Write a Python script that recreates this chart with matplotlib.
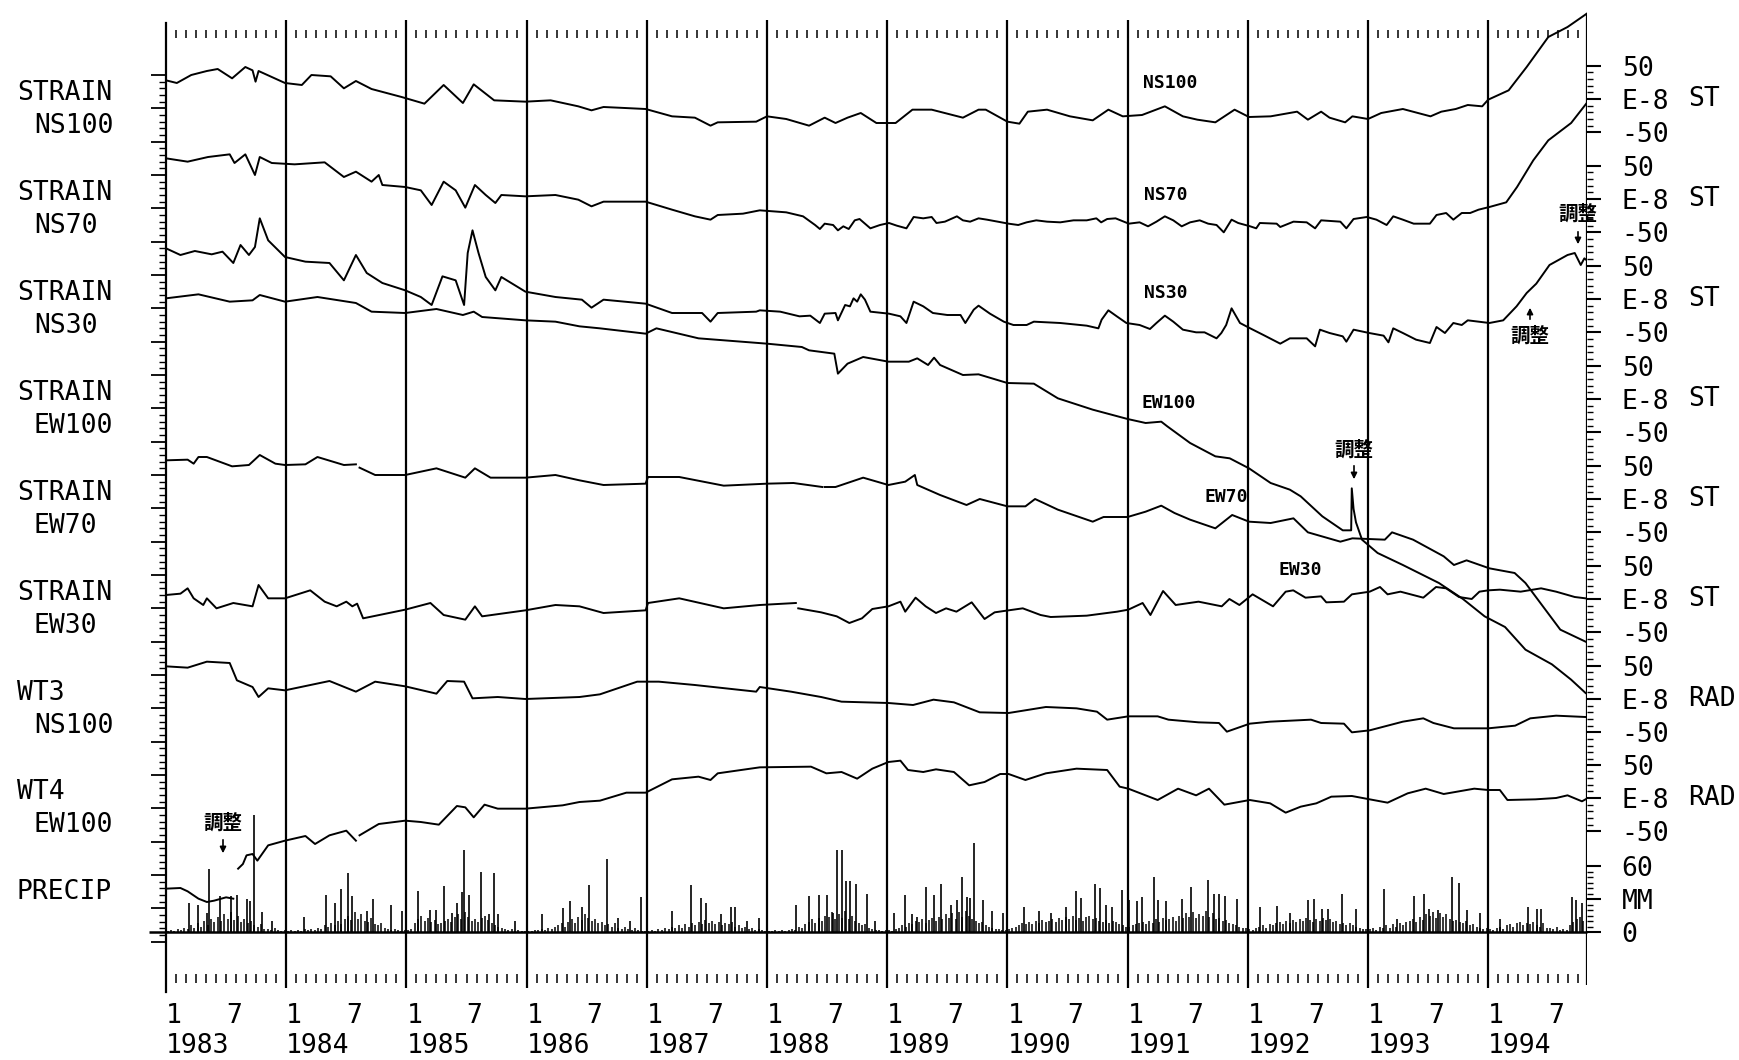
import numpy as np
import matplotlib.pyplot as plt
from matplotlib.ticker import FixedLocator

plt.rcParams['font.family'] = 'DejaVu Sans Mono'
CJK = ['Noto Sans CJK JP', 'DejaVu Sans']

# records: (decimal year, value in E-8)
ns100 = [
    (1983.00, 28), (1983.09, 24), (1983.21, 36), (1983.34, 42), (1983.43, 45), (1983.55, 31),
    (1983.66, 48), (1983.72, 43), (1983.745, 26), (1983.77, 42), (1983.88, 33), (1983.99, 24),
    (1984.13, 21), (1984.21, 36), (1984.37, 34), (1984.48, 16), (1984.58, 27), (1984.71, 15),
    (1984.96, 3), (1985.15, -7), (1985.31, 21), (1985.47, -6), (1985.56, 22), (1985.73, -2),
    (1985.99, -4), (1986.20, -2), (1986.43, -11), (1986.54, -17), (1986.64, -12), (1986.76, -13),
    (1986.99, -15), (1987.21, -26), (1987.40, -28), (1987.53, -40), (1987.59, -35), (1987.91, -34),
    (1988.00, -26), (1988.16, -30), (1988.35, -40), (1988.48, -28), (1988.57, -36), (1988.67, -28),
    (1988.78, -21), (1988.91, -36), (1989.07, -36), (1989.21, -16), (1989.37, -16), (1989.63, -28),
    (1989.76, -16), (1989.82, -16), (1990.00, -34), (1990.10, -37), (1990.17, -19), (1990.33, -16),
    (1990.52, -26), (1990.71, -32), (1990.84, -16), (1990.96, -26), (1991.12, -24), (1991.31, -11),
    (1991.46, -26), (1991.58, -31), (1991.73, -35), (1991.89, -16), (1992.01, -27), (1992.19, -26),
    (1992.41, -19), (1992.50, -31), (1992.61, -19), (1992.68, -28), (1992.81, -35), (1992.87, -26),
    (1993.00, -30), (1993.11, -21), (1993.29, -15), (1993.52, -26), (1993.61, -19), (1993.73, -15),
    (1993.83, -9), (1993.95, -11), (1994.00, -1), (1994.17, 13), (1994.32, 48), (1994.50, 93),
    (1994.66, 108), (1994.74, 118), (1994.82, 128),
]
ns70 = [
    (1983.00, 61), (1983.18, 56), (1983.35, 63), (1983.53, 67), (1983.57, 54), (1983.66, 67),
    (1983.74, 36), (1983.78, 63), (1983.88, 54), (1984.07, 52), (1984.32, 55), (1984.48, 33),
    (1984.58, 41), (1984.71, 26), (1984.77, 36), (1984.80, 21), (1984.99, 18), (1985.12, 13),
    (1985.21, -9), (1985.31, 26), (1985.41, 13), (1985.49, -13), (1985.57, 21), (1985.66, 6),
    (1985.74, -6), (1985.79, 6), (1985.99, 4), (1986.24, 6), (1986.43, -1), (1986.54, -11),
    (1986.64, -4), (1986.99, -4), (1987.21, -16), (1987.40, -26), (1987.53, -31), (1987.59, -24),
    (1987.80, -22), (1987.94, -17), (1988.16, -20), (1988.30, -26), (1988.40, -39), (1988.44, -45),
    (1988.48, -37), (1988.55, -39), (1988.59, -47), (1988.635, -41), (1988.68, -45), (1988.73, -32),
    (1988.77, -30), (1988.86, -44), (1988.94, -39), (1989.015, -36), (1989.08, -40), (1989.16, -44),
    (1989.22, -27), (1989.30, -29), (1989.37, -27), (1989.41, -36), (1989.48, -34), (1989.58, -26),
    (1989.63, -32), (1989.69, -34), (1989.76, -29), (1989.83, -31), (1990.01, -37), (1990.09, -39),
    (1990.16, -35), (1990.24, -32), (1990.33, -34), (1990.44, -35), (1990.55, -32), (1990.66, -32),
    (1990.74, -29), (1990.78, -35), (1990.83, -30), (1990.90, -29), (1991.01, -37), (1991.10, -35),
    (1991.17, -41), (1991.24, -34), (1991.31, -26), (1991.38, -32), (1991.45, -41), (1991.52, -35),
    (1991.60, -32), (1991.67, -37), (1991.74, -39), (1991.80, -50), (1991.865, -31), (1991.92, -36),
    (1992.02, -41), (1992.07, -44), (1992.10, -36), (1992.24, -37), (1992.27, -42), (1992.38, -34),
    (1992.49, -35), (1992.56, -44), (1992.61, -32), (1992.77, -34), (1992.82, -44), (1992.88, -30),
    (1992.99, -27), (1993.07, -31), (1993.155, -39), (1993.21, -26), (1993.29, -31), (1993.38, -37),
    (1993.515, -37), (1993.57, -24), (1993.65, -21), (1993.71, -31), (1993.78, -21), (1993.85, -21),
    (1993.92, -16), (1994.01, -12), (1994.15, -5), (1994.24, 18), (1994.375, 58), (1994.50, 88),
    (1994.69, 114), (1994.82, 144),
]
ns30 = [
    (1983.00, 76), (1983.12, 66), (1983.24, 72), (1983.38, 67), (1983.47, 71), (1983.56, 54),
    (1983.62, 81), (1983.69, 66), (1983.74, 78), (1983.78, 121), (1983.85, 88), (1983.99, 63),
    (1984.16, 56), (1984.36, 54), (1984.48, 28), (1984.58, 66), (1984.67, 39), (1984.80, 24),
    (1984.99, 13), (1985.12, 3), (1985.21, -9), (1985.30, 34), (1985.41, 28), (1985.48, -9),
    (1985.51, 69), (1985.55, 103), (1985.60, 69), (1985.66, 33), (1985.74, 13), (1985.79, 33),
    (1985.99, 11), (1986.24, 3), (1986.46, -1), (1986.54, -13), (1986.64, -1), (1986.99, -7),
    (1987.21, -21), (1987.46, -21), (1987.53, -34), (1987.59, -21), (1987.91, -19), (1987.94, -17),
    (1988.11, -19), (1988.27, -26), (1988.36, -25), (1988.44, -36), (1988.48, -22), (1988.57, -21),
    (1988.59, -32), (1988.65, -9), (1988.69, -11), (1988.72, 1), (1988.75, -4), (1988.78, 7),
    (1988.815, -1), (1988.86, -19), (1989.015, -22), (1989.11, -26), (1989.16, -36), (1989.22, -4),
    (1989.30, -11), (1989.38, -21), (1989.50, -24), (1989.61, -24), (1989.65, -36), (1989.72, -16),
    (1989.76, -10), (1989.855, -22), (1989.97, -34), (1990.05, -39), (1990.16, -39), (1990.22, -34),
    (1990.44, -36), (1990.66, -40), (1990.757, -44), (1990.784, -31), (1990.84, -17), (1990.91, -26),
    (1990.99, -36), (1991.10, -39), (1991.186, -45), (1991.24, -36), (1991.31, -25), (1991.38, -34),
    (1991.46, -46), (1991.57, -50), (1991.64, -50), (1991.74, -59), (1991.78, -51), (1991.82, -39),
    (1991.865, -14), (1991.935, -36), (1992.02, -44), (1992.13, -54), (1992.27, -67), (1992.35, -59),
    (1992.49, -59), (1992.56, -71), (1992.60, -46), (1992.68, -51), (1992.79, -56), (1992.82, -64),
    (1992.88, -46), (1993.01, -51), (1993.13, -55), (1993.17, -65), (1993.21, -44), (1993.29, -51),
    (1993.40, -61), (1993.515, -66), (1993.57, -42), (1993.64, -51), (1993.71, -36), (1993.78, -39),
    (1993.83, -32), (1994.01, -36), (1994.125, -32), (1994.236, -11), (1994.32, 9), (1994.40, 23),
    (1994.51, 51), (1994.60, 60), (1994.66, 66), (1994.72, 69), (1994.77, 51), (1994.80, 61),
    (1994.82, 58),
]
ew100 = [
    (1983.00, 151), (1983.27, 157), (1983.53, 146), (1983.72, 148), (1983.78, 156), (1983.99, 146),
    (1984.26, 153), (1984.58, 144), (1984.71, 131), (1984.99, 129), (1985.25, 135), (1985.47, 126),
    (1985.56, 131), (1985.63, 123), (1985.99, 118), (1986.24, 116), (1986.44, 109), (1986.61, 106),
    (1986.99, 98), (1987.08, 106), (1987.43, 91), (1988.00, 83), (1988.29, 78), (1988.35, 73),
    (1988.56, 68), (1988.59, 38), (1988.67, 53), (1988.80, 63), (1989.01, 56), (1989.18, 56),
    (1989.25, 61), (1989.34, 51), (1989.39, 62), (1989.44, 51), (1989.63, 36), (1989.76, 37),
    (1990.00, 24), (1990.22, 23), (1990.42, 1), (1990.71, -16), (1991.00, -30), (1991.15, -36),
    (1991.28, -34), (1991.33, -41), (1991.52, -66), (1991.73, -86), (1991.85, -89), (1992.01, -104),
    (1992.19, -126), (1992.35, -136), (1992.44, -146), (1992.62, -176), (1992.79, -197), (1992.86, -197),
    (1992.865, -134), (1992.88, -165), (1992.90, -185), (1992.95, -211), (1993.08, -231), (1993.29, -249),
    (1993.59, -276), (1993.79, -300), (1993.97, -326), (1994.14, -342), (1994.31, -376), (1994.53, -398),
    (1994.69, -421), (1994.81, -441),
]
ew70 = [
    (1983.00, 58), (1983.18, 59), (1983.23, 53), (1983.27, 63), (1983.34, 63), (1983.55, 49),
    (1983.69, 51), (1983.78, 66), (1983.91, 53), (1983.99, 51), (1984.16, 52), (1984.26, 63),
    (1984.48, 51), (1984.58, 52), (1984.60, np.nan), (1984.61, 47), (1984.74, 36), (1984.99, 36),
    (1985.25, 46), (1985.49, 32), (1985.57, 46), (1985.70, 32), (1985.99, 32), (1986.24, 36),
    (1986.44, 28), (1986.64, 21), (1986.99, 23), (1987.01, 33), (1987.27, 33), (1987.64, 20),
    (1988.00, 23), (1988.22, 24), (1988.46, 18), (1988.47, np.nan), (1988.48, 18), (1988.57, 18),
    (1988.80, 32), (1989.01, 21), (1989.15, 26), (1989.23, 36), (1989.25, 21), (1989.44, 6),
    (1989.66, -9), (1989.77, 0), (1990.00, -11), (1990.15, -11), (1990.23, 0), (1990.42, -16),
    (1990.71, -34), (1990.80, -27), (1991.00, -27), (1991.15, -19), (1991.28, -10), (1991.39, -21),
    (1991.52, -31), (1991.73, -44), (1991.87, -24), (1992.01, -34), (1992.19, -36), (1992.38, -29),
    (1992.50, -50), (1992.77, -64), (1992.87, -59), (1993.14, -61), (1993.20, -50), (1993.375, -61),
    (1993.63, -86), (1993.715, -99), (1993.82, -92), (1994.01, -104), (1994.22, -111), (1994.31, -126),
    (1994.60, -196), (1994.81, -214),
]
ew30 = [
    (1983.00, 6), (1983.12, 8), (1983.18, 16), (1983.23, 1), (1983.31, -9), (1983.34, 1),
    (1983.42, -14), (1983.56, -6), (1983.72, -11), (1983.77, 21), (1983.85, 1), (1983.99, 1),
    (1984.20, 13), (1984.32, -4), (1984.42, -11), (1984.50, -4), (1984.55, -11), (1984.59, -7),
    (1984.64, -29), (1984.99, -16), (1985.20, -6), (1985.31, -24), (1985.49, -31), (1985.57, -11),
    (1985.63, -26), (1985.99, -17), (1986.24, -9), (1986.44, -11), (1986.64, -21), (1986.99, -17),
    (1987.01, -6), (1987.27, 1), (1987.64, -14), (1987.94, -9), (1988.24, -6), (1988.25, np.nan),
    (1988.26, -14), (1988.45, -20), (1988.58, -26), (1988.685, -36), (1988.79, -29), (1988.876, -15),
    (1989.01, -11), (1989.11, -4), (1989.15, -19), (1989.236, 2), (1989.32, -11), (1989.406, -21),
    (1989.49, -14), (1989.576, -19), (1989.703, -5), (1989.81, -30), (1989.894, -20), (1990.01, -17),
    (1990.128, -14), (1990.276, -24), (1990.36, -27), (1990.66, -25), (1990.913, -19), (1991.006, -16),
    (1991.125, -6), (1991.19, -24), (1991.295, 12), (1991.40, -9), (1991.59, -4), (1991.783, -11),
    (1991.847, 0), (1991.93, -9), (1992.04, 7), (1992.21, -11), (1992.315, 11), (1992.378, 13),
    (1992.48, 2), (1992.61, 4), (1992.653, -5), (1992.80, -4), (1992.866, 7), (1993.014, 11),
    (1993.10, 18), (1993.163, 7), (1993.27, 11), (1993.46, 2), (1993.566, 18), (1993.65, 16),
    (1993.757, 3), (1993.863, 0), (1993.927, 11), (1994.00, 13), (1994.097, 14), (1994.27, 11),
    (1994.44, 16), (1994.565, 11), (1994.72, 3), (1994.81, 1),
]
wt3 = [
    (1983.00, 49), (1983.18, 47), (1983.34, 56), (1983.53, 54), (1983.59, 28), (1983.72, 18),
    (1983.77, 3), (1983.85, 16), (1983.99, 13), (1984.36, 27), (1984.58, 11), (1984.74, 26),
    (1984.99, 19), (1985.25, 8), (1985.34, 27), (1985.48, 26), (1985.55, 1), (1985.76, 3),
    (1985.99, 0), (1986.44, 3), (1986.61, 7), (1986.92, 26), (1987.10, 26), (1987.40, 21),
    (1987.91, 11), (1987.94, 18), (1988.20, 11), (1988.45, 3), (1988.62, -4), (1989.01, -6),
    (1989.215, -9), (1989.385, -1), (1989.555, -5), (1989.77, -20), (1990.01, -21), (1990.32, -12),
    (1990.575, -14), (1990.745, -19), (1990.83, -31), (1991.006, -26), (1991.25, -26), (1991.34, -31),
    (1991.59, -35), (1991.76, -36), (1991.826, -49), (1992.016, -37), (1992.186, -34), (1992.526, -31),
    (1992.61, -36), (1992.80, -37), (1992.866, -50), (1993.014, -47), (1993.29, -34), (1993.46, -29),
    (1993.544, -36), (1993.715, -44), (1994.00, -44), (1994.224, -40), (1994.35, -29), (1994.565, -25),
    (1994.81, -27),
]
wt4 = [
    (1983.00, -136), (1983.12, -135), (1983.18, -140), (1983.27, -151), (1983.34, -156), (1983.40, -154),
    (1983.50, -149), (1983.56, -151), (1983.58, np.nan), (1983.60, -106), (1983.64, -99), (1983.67, -86),
    (1983.72, -84), (1983.76, -94), (1983.85, -71), (1983.99, -64), (1984.16, -57), (1984.24, -69),
    (1984.36, -56), (1984.50, -49), (1984.58, -64), (1984.595, np.nan), (1984.61, -56), (1984.77, -39),
    (1984.99, -34), (1985.12, -36), (1985.27, -40), (1985.42, -12), (1985.49, -14), (1985.56, -29),
    (1985.65, -10), (1985.76, -16), (1985.99, -16), (1986.30, -11), (1986.44, -6), (1986.61, -4),
    (1986.83, 8), (1986.99, 8), (1987.21, 28), (1987.43, 32), (1987.53, 27), (1987.59, 37),
    (1987.94, 46), (1988.366, 47), (1988.494, 37), (1988.62, 39), (1988.75, 29), (1988.876, 44),
    (1989.01, 54), (1989.11, 56), (1989.173, 42), (1989.30, 39), (1989.406, 43), (1989.555, 39),
    (1989.682, 19), (1989.81, 24), (1989.94, 36), (1990.01, 36), (1990.15, 27), (1990.32, 37),
    (1990.575, 44), (1990.83, 42), (1990.934, 17), (1991.006, 14), (1991.25, -3), (1991.42, 14),
    (1991.57, 4), (1991.677, 14), (1991.805, -10), (1992.016, -3), (1992.186, -8), (1992.315, -22),
    (1992.44, -13), (1992.57, -8), (1992.695, 2), (1992.866, 3), (1993.014, -2), (1993.163, -7),
    (1993.33, 7), (1993.48, 14), (1993.63, 6), (1993.884, 14), (1994.00, 12), (1994.097, 12),
    (1994.16, -3), (1994.393, -2), (1994.565, 0), (1994.66, 4), (1994.78, -5), (1994.82, -1),
]

# daily rainfall peaks (decimal year, mm)
rain_peaks = [
    (1983.19, 26), (1983.27, 25), (1983.34, 17), (1983.36, 57), (1983.45, 33), (1983.54, 33),
    (1983.59, 34), (1983.67, 30), (1983.70, 28), (1983.73, 106), (1983.80, 18), (1983.88, 10),
    (1984.15, 14), (1984.33, 34), (1984.41, 26), (1984.46, 39), (1984.51, 54), (1984.55, 33),
    (1984.67, 19), (1984.72, 30), (1984.87, 25), (1984.96, 19), (1985.10, 37), (1985.20, 20),
    (1985.25, 20), (1985.31, 42), (1985.38, 17), (1985.42, 26), (1985.46, 36), (1985.48, 75),
    (1985.52, 34), (1985.62, 55), (1985.69, 16), (1985.73, 54), (1985.76, 16), (1985.90, 10),
    (1986.13, 16), (1986.30, 22), (1986.36, 28), (1986.46, 23), (1986.52, 43), (1986.67, 66),
    (1986.76, 13), (1986.86, 10), (1986.95, 32), (1987.21, 19), (1987.37, 43), (1987.45, 31),
    (1987.49, 26), (1987.62, 16), (1987.70, 23), (1987.73, 23), (1987.83, 10), (1987.93, 13),
    (1988.24, 25), (1988.35, 33), (1988.43, 34), (1988.50, 34), (1988.55, 17), (1988.58, 75),
    (1988.62, 75), (1988.66, 46), (1988.69, 46), (1988.74, 44), (1988.83, 35), (1988.90, 10),
    (1989.06, 17), (1989.15, 34), (1989.21, 16), (1989.25, 14), (1989.32, 41), (1989.39, 34),
    (1989.45, 44), (1989.53, 25), (1989.58, 29), (1989.62, 50), (1989.66, 32), (1989.69, 31),
    (1989.72, 81), (1989.80, 29), (1989.87, 19), (1989.96, 17), (1990.14, 23), (1990.26, 19),
    (1990.36, 17), (1990.49, 23), (1990.57, 37), (1990.61, 31), (1990.73, 44), (1990.77, 40),
    (1990.82, 25), (1990.87, 23), (1990.95, 38), (1991.01, 29), (1991.08, 28), (1991.12, 32),
    (1991.22, 50), (1991.25, 29), (1991.32, 28), (1991.45, 30), (1991.53, 41), (1991.67, 47),
    (1991.72, 35), (1991.76, 35), (1991.81, 33), (1991.91, 30), (1992.10, 23), (1992.24, 24),
    (1992.35, 17), (1992.50, 29), (1992.55, 30), (1992.62, 21), (1992.67, 21), (1992.78, 35),
    (1992.90, 21), (1993.13, 39), (1993.24, 12), (1993.38, 33), (1993.47, 35), (1993.51, 21),
    (1993.58, 20), (1993.70, 50), (1993.76, 45), (1993.82, 20), (1993.93, 17), (1994.10, 12),
    (1994.33, 23), (1994.41, 21), (1994.44, 21), (1994.70, 32), (1994.73, 29), (1994.78, 26),
]
# smaller rainfall, one value per ten days from Jan 1983
rain_ten_day = [
    1, 2, 1, 3, 2, 4, 3, 6, 4, 8, 5, 10, 6, 12, 9, 14, 10, 16, 12, 18, 11, 15, 9, 12, 8, 10, 6, 5, 7, 3, 3, 2, 4, 2, 1, 2,
    1, 2, 1, 2, 1, 3, 2, 3, 2, 4, 3, 6, 5, 8, 6, 10, 7, 12, 15, 11, 18, 12, 16, 10, 9, 13, 7, 6, 8, 4, 3, 2, 3, 2, 1, 2,
    2, 3, 8, 12, 15, 10, 13, 9, 11, 7, 8, 10, 12, 9, 14, 16, 12, 18, 14, 10, 12, 9, 13, 15, 11, 8, 6, 5, 4, 3, 2, 3, 1, 2, 1, 1,
    1, 1, 2, 2, 3, 2, 4, 3, 5, 6, 8, 5, 9, 12, 8, 14, 11, 16, 13, 10, 12, 8, 9, 6, 7, 5, 8, 4, 3, 5, 3, 2, 4, 2, 1, 1,
    1, 2, 1, 3, 2, 4, 3, 5, 4, 6, 4, 7, 5, 8, 6, 9, 7, 11, 8, 10, 7, 9, 6, 8, 7, 9, 5, 6, 4, 5, 3, 4, 2, 3, 2, 1,
    1, 1, 2, 1, 2, 1, 2, 3, 2, 5, 4, 7, 9, 12, 8, 13, 10, 15, 14, 18, 12, 16, 13, 19, 12, 15, 10, 8, 6, 7, 4, 3, 2, 2, 1, 2,
    2, 1, 3, 4, 6, 5, 8, 7, 10, 9, 12, 8, 11, 13, 10, 14, 12, 16, 13, 17, 12, 18, 14, 19, 15, 12, 10, 8, 9, 6, 5, 4, 3, 3, 2, 2,
    3, 4, 5, 6, 8, 7, 9, 7, 10, 8, 11, 9, 10, 12, 9, 13, 11, 14, 12, 15, 11, 13, 10, 14, 15, 12, 13, 10, 9, 11, 8, 10, 9, 7, 6, 5,
    5, 6, 7, 8, 9, 7, 10, 8, 12, 9, 13, 11, 12, 14, 10, 15, 13, 17, 14, 18, 13, 16, 15, 19, 14, 17, 12, 13, 10, 11, 8, 7, 6, 5, 4, 4,
    3, 2, 4, 5, 6, 4, 7, 6, 8, 9, 7, 10, 8, 11, 9, 12, 10, 13, 11, 9, 12, 10, 13, 11, 12, 9, 10, 7, 8, 6, 8, 6, 5, 4, 3, 3,
    3, 4, 2, 5, 4, 6, 4, 7, 5, 8, 6, 9, 10, 12, 9, 14, 11, 16, 15, 18, 13, 17, 14, 16, 12, 10, 11, 9, 8, 10, 6, 7, 5, 4, 3, 4,
    3, 2, 4, 5, 3, 6, 7, 5, 8, 9, 6, 8, 7, 9, 6, 5, 8, 4, 4, 3, 5, 2, 3, 2, 6, 9, 12, 14, 10, 9,
]

years = list(range(1983, 1995))

# layout in pixels of the 1740x1060 picture
W, H = 1740, 1060
L, R, TOP, BOT = 166, 1587, 10, 995
PX_YEAR = 120.2
T0 = 1983.0
T1 = T0 + (R - L) / PX_YEAR


def yr(px):
    return T0 + (px - L) / PX_YEAR


fig = plt.figure(figsize=(W / 100, H / 100), dpi=100)
rect = [L / W, 1 - BOT / H, (R - L) / W, (BOT - TOP) / H]

# frame axes, y in pixels
base = fig.add_axes(rect, label='frame')
base.set_xlim(T0, T1)
base.set_ylim(BOT, TOP)
base.patch.set_visible(False)
for s in ['top', 'right', 'bottom']:
    base.spines[s].set_visible(False)
base.spines['left'].set_bounds(23, 992)
base.spines['left'].set_linewidth(1.6)
base.set_xticks([])
base.yaxis.set_major_locator(FixedLocator(np.arange(75, 945, 100 / 3)))
base.yaxis.set_minor_locator(FixedLocator(np.arange(75, 945, 20 / 3)))
base.tick_params(axis='y', which='major', direction='out', length=11, width=1.3, labelleft=False)
base.tick_params(axis='y', which='minor', direction='out', length=5, width=1.0)

base.vlines(years[1:], 20, 988, color='k', lw=1.6)
base.vlines(T1, 13, 985, color='k', lw=1.6)
months = [y + m / 12 for y in years for m in range(1, 12) if y + m / 12 < T1 - 0.03]
base.vlines(months, 30, 38, color='k', lw=1.1)
base.vlines(months, 974, 983, color='k', lw=1.1)

for y in years:
    base.text(y, 1016, '1', ha='left', va='center', fontsize=19)
    base.text(y + 0.5, 1016, '7', ha='left', va='center', fontsize=19)
    base.text(y, 1046, str(y), ha='left', va='center', fontsize=19)

# name, record, zero line in pixels, unit, left label pair
channels = [
    ('NS100', ns100, 99, 'ST', 'STRAIN', 'NS100'),
    ('NS70', ns70, 199, 'ST', 'STRAIN', 'NS70'),
    ('NS30', ns30, 299, 'ST', 'STRAIN', 'NS30'),
    ('EW100', ew100, 399, 'ST', 'STRAIN', 'EW100'),
    ('EW70', ew70, 499, 'ST', 'STRAIN', 'EW70'),
    ('EW30', ew30, 599, 'ST', 'STRAIN', 'EW30'),
    ('WT3', wt3, 699, 'RAD', 'WT3', 'NS100'),
    ('WT4', wt4, 798, 'RAD', 'WT4', 'EW100'),
]
PX_UNIT = 2 / 3

for name, data, zero, unit, lab1, lab2 in channels:
    ax = fig.add_axes(rect, label=name)
    ax.set_xlim(T0, T1)
    ax.set_ylim(-(BOT - zero) / PX_UNIT, (zero - TOP) / PX_UNIT)
    ax.patch.set_visible(False)
    for s in ax.spines.values():
        s.set_visible(False)
    ax.set_xticks([])
    t, v = zip(*data)
    ax.plot(t, v, color='k', lw=1.4)
    ax.yaxis.tick_right()
    ax.set_yticks([-50, 0, 50])
    ax.set_yticklabels(['-50', 'E-8', '50'])
    if name == 'NS100' or name == 'WT4':
        minors = [-40, -30, -20, -10, 10, 20, 30, 40]
    else:
        minors = [-90, -80, -70, -60, -40, -30, -20, -10, 10, 20, 30, 40]
    ax.yaxis.set_minor_locator(FixedLocator(minors))
    ax.tick_params(axis='y', which='major', direction='out', length=10, width=1.5, pad=15, labelsize=19)
    ax.tick_params(axis='y', which='minor', direction='out', length=4.5, width=1.0)
    ax.text((1688 - L) / (R - L), 0, unit, transform=ax.get_yaxis_transform(),
            ha='left', va='center', fontsize=19)
    fig.text(17 / W, 1 - (zero - 6) / H, lab1, ha='left', va='center', fontsize=19)
    fig.text(34 / W, 1 - (zero + 27) / H, lab2, ha='left', va='center', fontsize=19)

# precipitation
PX_MM = 1.1
P_ZERO = 932
pax = fig.add_axes(rect, label='precip')
pax.set_xlim(T0, T1)
pax.set_ylim(-(BOT - P_ZERO) / PX_MM, (P_ZERO - TOP) / PX_MM)
pax.patch.set_visible(False)
for s in pax.spines.values():
    s.set_visible(False)
pax.set_xticks([])
small_t = [T0 + (i + 0.5) / 36 for i in range(len(rain_ten_day))]
pax.vlines(small_t, 0, rain_ten_day, color='k', lw=1.1)
pt, pv = zip(*rain_peaks)
pax.vlines(pt, 0, pv, color='k', lw=1.2)
pax.hlines(0, yr(149), T1, color='k', lw=1.8, clip_on=False)
pax.yaxis.tick_right()
pax.set_yticks([0, 30, 60])
pax.set_yticklabels(['0', 'MM', '60'])
pax.yaxis.set_minor_locator(FixedLocator([5, 10, 15, 20, 25, 35, 40, 45, 50, 55]))
pax.tick_params(axis='y', which='major', direction='out', length=10, width=1.5, pad=15, labelsize=19)
pax.tick_params(axis='y', which='minor', direction='out', length=4.5, width=1.0)
fig.text(17 / W, 1 - 892 / H, 'PRECIP', ha='left', va='center', fontsize=19)

# small curve labels
small = [('NS100', 1143, 83), ('NS70', 1144, 195), ('NS30', 1144, 293),
         ('EW100', 1141, 403), ('EW70', 1204, 497), ('EW30', 1278, 570)]
for txt, px, py in small:
    base.text(yr(px), py, txt, ha='left', va='center', fontsize=13, fontweight='bold')

# adjustment marks
adjust = [(1578, 214, 229, 247), (1530, 336, 322, 305), (1354, 450, 463, 482), (223, 823, 837, 856)]
for px, ty, a0, a1 in adjust:
    base.text(yr(px), ty, '調整', ha='center', va='center', fontsize=14, fontweight='bold', family=CJK)
    base.annotate('', xy=(yr(px), a1), xytext=(yr(px), a0),
                  arrowprops=dict(arrowstyle='-|>', color='k', lw=1.2, mutation_scale=9))

fig.savefig('out.png', dpi=100, facecolor='white')
